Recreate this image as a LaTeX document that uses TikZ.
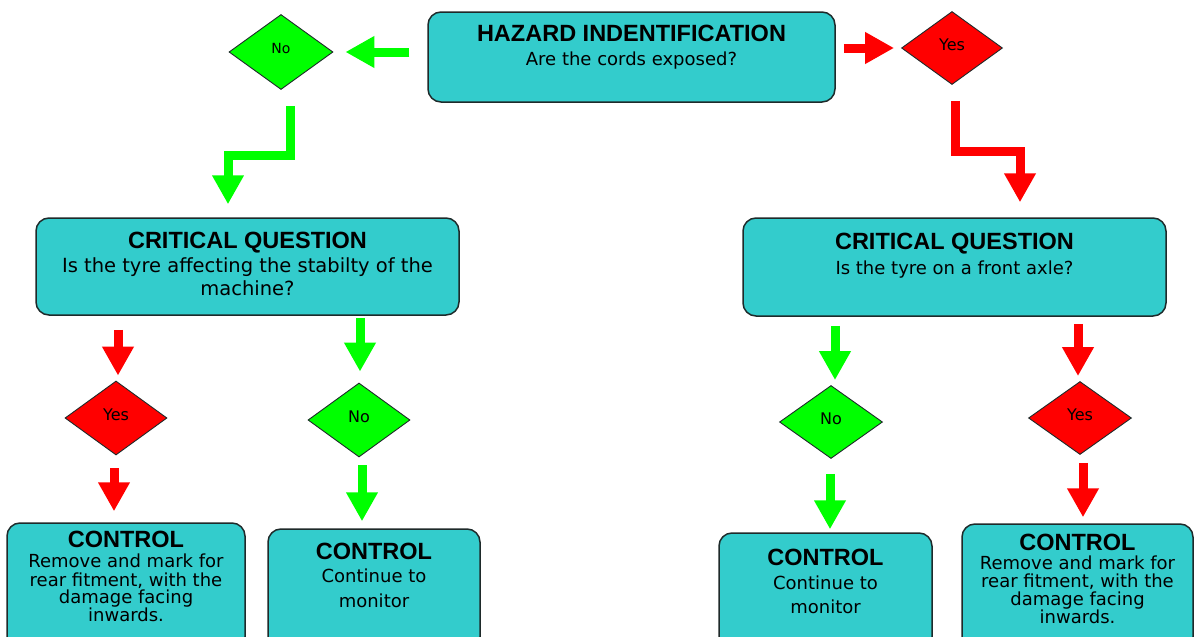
\documentclass[tikz,border=0pt]{standalone}
\usepackage{fontspec}
\setmainfont{DejaVu Sans}
\newfontfamily\titlefont{Liberation Sans}
\usetikzlibrary{shapes.geometric,arrows.meta}
\definecolor{boxteal}{HTML}{33CCCC}
\definecolor{boxline}{HTML}{1E2A2A}
\definecolor{arrgreen}{HTML}{00FF00}
\definecolor{arrred}{HTML}{FF0000}
\begin{document}
\begin{tikzpicture}[x=1pt,y=-1pt,
  box/.style={draw=boxline, line width=1.5pt, fill=boxteal, rounded corners=13pt, inner sep=0pt},
  dia/.style={diamond, draw=boxline, line width=0.9pt, inner sep=0pt, text depth=7pt, font=\fontsize{16}{16}\selectfont},
  gdia/.style={dia, fill=arrgreen},
  rdia/.style={dia, fill=arrred},
  ttl/.style={anchor=base, inner sep=0pt, font=\titlefont\bfseries\fontsize{23.5}{23.5}\selectfont},
  txt/.style={anchor=base, inner sep=0pt, font=\fontsize{18}{18}\selectfont},
  blk/.style={line width=9pt, line join=miter, -{Triangle[length=29pt,width=30pt]}},
  garrow/.style={blk, draw=arrgreen},
  rarrow/.style={blk, draw=arrred},
]
\useasboundingbox (0,0) rectangle (1195,637);

% top row
\node[box, minimum width=407pt, minimum height=90pt] (haz) at (631.5,57) {};
\node[ttl] (hazT) at ([yshift=-30pt]haz.north) {HAZARD INDENTIFICATION};
\node[txt] (hazB) at ([yshift=-54pt]haz.north) {Are the cords exposed?};

\node[gdia, minimum width=104pt, minimum height=75pt, font=\fontsize{14}{14}\selectfont] (noT) at (281,52) {No};
\node[rdia, minimum width=101pt, minimum height=73pt] (yesT) at (952,48) {Yes};

\draw[garrow, shorten <=18pt, shorten >=12pt] (haz.west |- noT) -- (noT.east);
\draw[rarrow, shorten <=8pt, shorten >=7pt] (haz.east |- yesT) -- (yesT.west);

% critical boxes
\node[box, minimum width=423pt, minimum height=97pt] (critL) at (247.5,266.5) {};
\node[ttl] (critLT) at ([yshift=-31pt]critL.north) {CRITICAL QUESTION};
\node[txt, font=\fontsize{19.5}{19.5}\selectfont] (critLB1) at ([yshift=-55pt]critL.north) {Is the tyre affecting the stabilty of the};
\node[txt, font=\fontsize{19.5}{19.5}\selectfont] (critLB2) at ([yshift=-78pt]critL.north) {machine?};

\node[box, minimum width=423pt, minimum height=98pt] (critR) at (954.5,267) {};
\node[ttl] (critRT) at ([yshift=-32pt]critR.north) {CRITICAL QUESTION};
\node[txt] (critRB) at ([yshift=-57pt]critR.north) {Is the tyre on a front axle?};

% zigzag connectors
\coordinate (gz) at (228,155);
\coordinate (rz) at (1020,151);
\draw[garrow, shorten <=16pt, shorten >=13pt] ([xshift=9pt]noT.south) |- (gz) -- (critL.north -| gz);
\draw[rarrow, shorten <=16pt, shorten >=15pt] ([xshift=3pt]yesT.south) |- (rz) -- (critR.north -| rz);

% bottom diamonds
\node[rdia, minimum width=102pt, minimum height=74pt] (yesL) at (116,418) {Yes};
\node[gdia, minimum width=102pt, minimum height=74pt] (noL) at (359,420) {No};
\node[gdia, minimum width=103pt, minimum height=73pt] (noR) at (831,422) {No};
\node[rdia, minimum width=103pt, minimum height=73pt] (yesR) at (1080,418) {Yes};

% control boxes
\node[box, minimum width=238pt, minimum height=127pt] (ctlA) at (126,586.5) {};
\node[ttl] (ctlAT) at ([yshift=-25pt]ctlA.north) {CONTROL};
\node[txt] (ctlA1) at ([yshift=-45pt]ctlA.north) {Remove and mark for};
\node[txt] (ctlA2) at ([yshift=-64pt]ctlA.north) {rear fitment, with the};
\node[txt] (ctlA3) at ([yshift=-81pt]ctlA.north) {damage facing};
\node[txt] (ctlA4) at ([yshift=-99pt]ctlA.north) {inwards.};

\node[box, minimum width=212pt, minimum height=121pt] (ctlB) at (374,589.5) {};
\node[ttl] (ctlBT) at ([yshift=-31pt]ctlB.north) {CONTROL};
\node[txt] (ctlB1) at ([yshift=-54pt]ctlB.north) {Continue to};
\node[txt] (ctlB2) at ([yshift=-79pt]ctlB.north) {monitor};

\node[box, minimum width=213pt, minimum height=117pt] (ctlC) at (825.5,591.5) {};
\node[ttl] (ctlCT) at ([yshift=-33pt]ctlC.north) {CONTROL};
\node[txt] (ctlC1) at ([yshift=-57pt]ctlC.north) {Continue to};
\node[txt] (ctlC2) at ([yshift=-81pt]ctlC.north) {monitor};

\node[box, minimum width=231pt, minimum height=126pt] (ctlD) at (1077.5,587) {};
\node[ttl] (ctlDT) at ([yshift=-27pt]ctlD.north) {CONTROL};
\node[txt] (ctlD1) at ([yshift=-46pt]ctlD.north) {Remove and mark for};
\node[txt] (ctlD2) at ([yshift=-64pt]ctlD.north) {rear fitment, with the};
\node[txt] (ctlD3) at ([yshift=-82pt]ctlD.north) {damage facing};
\node[txt] (ctlD4) at ([yshift=-100pt]ctlD.north) {inwards.};

% vertical arrows
\coordinate (xa1) at (118,0);
\coordinate (xa2) at (114,0);
\coordinate (xa3) at (360,0);
\coordinate (xa4) at (362,0);
\coordinate (xa5) at (835,0);
\coordinate (xa6) at (830,0);
\coordinate (xa7) at (1078,0);
\coordinate (xa8) at (1083,0);
\draw[rarrow, shorten <=14pt, shorten >=5pt] (critL.south -| xa1) -- (yesL.north -| xa1);
\draw[rarrow, shorten <=13pt, shorten >=11pt] (yesL.south -| xa2) -- (ctlA.north -| xa2);
\draw[garrow, shorten <=2pt, shorten >=11pt] (critL.south -| xa3) -- (noL.north -| xa3);
\draw[garrow, shorten <=8pt, shorten >=7pt] (noL.south -| xa4) -- (ctlB.north -| xa4);
\draw[garrow, shorten <=9pt, shorten >=5pt] (critR.south -| xa5) -- (noR.north -| xa5);
\draw[garrow, shorten <=15pt, shorten >=3pt] (noR.south -| xa6) -- (ctlC.north -| xa6);
\draw[rarrow, shorten <=7pt, shorten >=5pt] (critR.south -| xa7) -- (yesR.north -| xa7);
\draw[rarrow, shorten <=8pt, shorten >=6pt] (yesR.south -| xa8) -- (ctlD.north -| xa8);
\end{tikzpicture}
\end{document}
